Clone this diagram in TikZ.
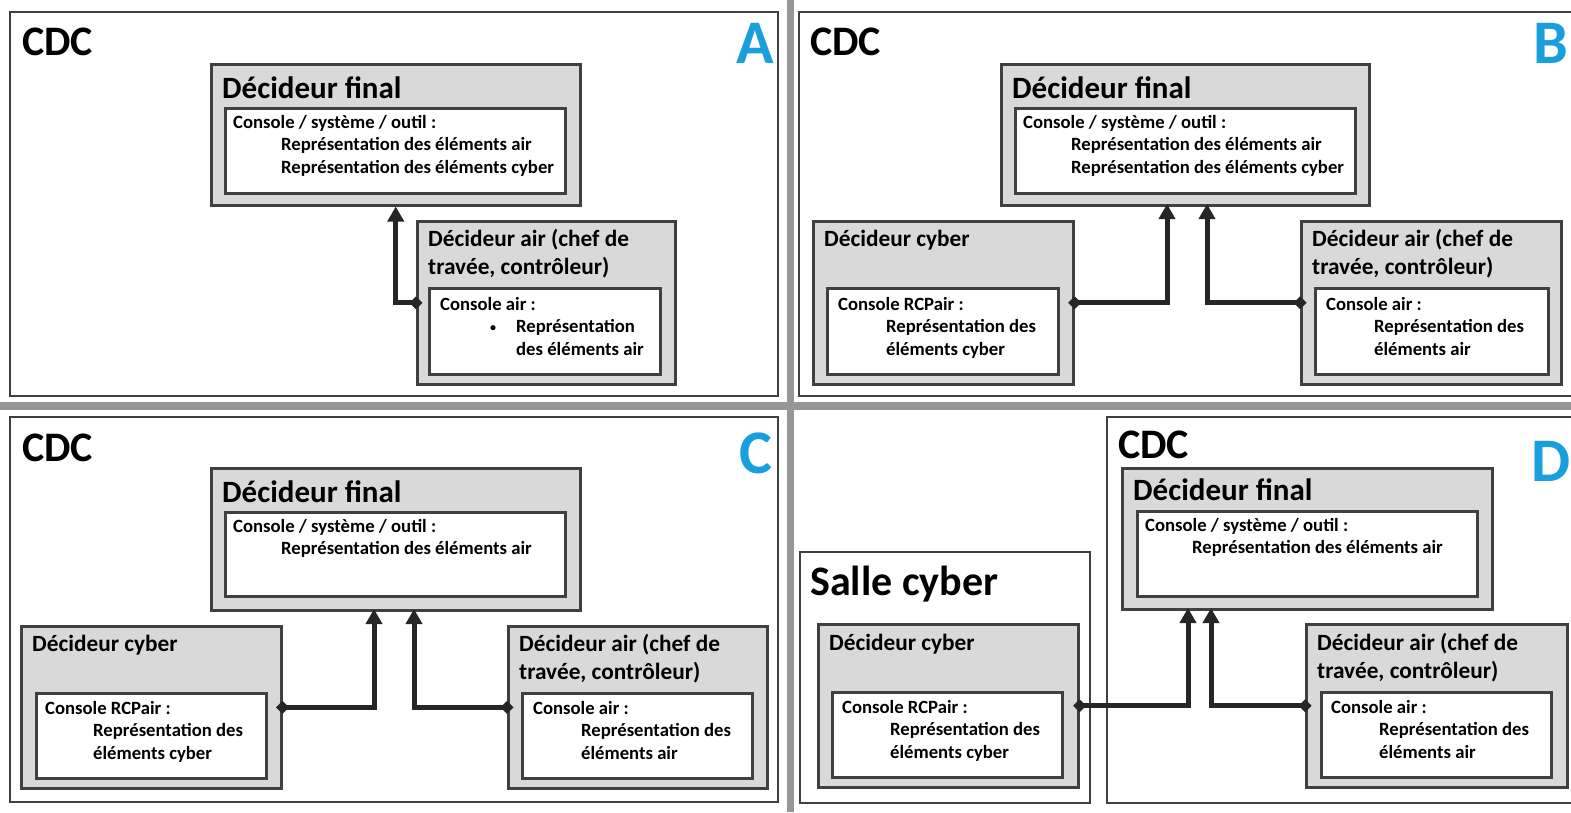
\documentclass[tikz,border=0pt]{standalone}
\usepackage{fontspec}
\setmainfont{Carlito}
\usetikzlibrary{arrows.meta}
\definecolor{boxgray}{RGB}{217,217,217}
\definecolor{linegray}{RGB}{64,64,64}
\definecolor{sepgray}{RGB}{150,150,150}
\definecolor{tagblue}{RGB}{25,160,220}
\definecolor{linkblack}{RGB}{38,38,38}
\begin{document}
\begin{tikzpicture}[x=1pt,y=-1pt,
    panel/.style={draw=linegray, line width=2pt},
    role/.style={draw=linegray, fill=boxgray, line width=2.5pt, inner sep=0, anchor=north west},
    screen/.style={draw=linegray, fill=white, line width=2.5pt, inner sep=0, anchor=north west},
    room/.style={font=\bfseries\fontsize{42}{50}\selectfont, inner sep=0, anchor=base west},
    tag/.style={font=\bfseries\fontsize{62}{70}\selectfont, text=tagblue, inner sep=0, anchor=base east},
    headbig/.style={font=\bfseries\fontsize{31}{37}\selectfont, inner sep=0, anchor=base west},
    head/.style={font=\bfseries\fontsize{23.3}{28}\selectfont, inner sep=0, anchor=base west, align=left},
    txt/.style={font=\bfseries\fontsize{18.7}{22.5}\selectfont, inner sep=0, anchor=base west, align=left},
    link/.style={draw=linkblack, line width=5pt, {Diamond[length=13pt,width=13pt]}-{Triangle[length=15pt,width=16pt]}, shorten <=-6.5pt}]
    \useasboundingbox (0,0) rectangle (1571,812);

    % separators between the four panels
    \fill[sepgray] (787,0) rectangle (794,812);
    \fill[sepgray] (0,402) rectangle (1571,410);

    % panel frames
    \draw[panel] (10,12) rectangle (778,396);
    \draw[panel] (799,12) rectangle (1580,396);
    \draw[panel] (10,417) rectangle (778,802);
    \draw[panel] (800,552) rectangle (1090,803);
    \draw[panel] (1107,417) rectangle (1580,803);

    % Panel A (text nodes sit on the baseline of their last line)
    \node[room] (cdcA) at (22,55) {CDC};
    \node[tag] (tagA) at (774,63) {A};
    \node[role, minimum width=369, minimum height=141] (finA) at (210,63) {};
    \node[headbig] (finAt) at (222,98) {Décideur final};
    \node[screen, minimum width=340, minimum height=85] (conA) at (224,107) {};
    \node[txt] (conAt) at (233,173) {Console / système / outil :\\
      \hspace*{48pt}Représentation des éléments air\\
      \hspace*{48pt}Représentation des éléments cyber};
    \node[role, minimum width=258, minimum height=163] (airA) at (416,220) {};
    \node[head] (airAt) at (428,274) {Décideur air (chef de\\travée, contrôleur)};
    \node[screen, minimum width=231, minimum height=86] (airconA) at (428,287) {};
    \node[txt] (airconAt) at (440,355) {Console air :\\
      \makebox[76pt][l]{\hspace*{50pt}\raisebox{1.5pt}{\fontsize{12}{12}\selectfont\textbullet}}Représentation\\
      \hspace*{76pt}des éléments air};
    \draw[link] (airA.west) -| (finA.south);

    % Panel B
    \node[room] (cdcB) at (810,55) {CDC};
    \node[tag] (tagB) at (1568,63) {B};
    \node[role, minimum width=368, minimum height=141] (finB) at (1000,63) {};
    \node[headbig] (finBt) at (1012,98) {Décideur final};
    \node[screen, minimum width=340, minimum height=85] (conB) at (1014,107) {};
    \node[txt] (conBt) at (1023,173) {Console / système / outil :\\
      \hspace*{48pt}Représentation des éléments air\\
      \hspace*{48pt}Représentation des éléments cyber};
    \node[role, minimum width=260, minimum height=163] (cybB) at (812,220) {};
    \node[head] (cybBt) at (824,246) {Décideur cyber};
    \node[screen, minimum width=231, minimum height=86] (cybconB) at (826,287) {};
    \node[txt] (cybconBt) at (838,355) {Console RCPair :\\
      \hspace*{48pt}Représentation des\\
      \hspace*{48pt}éléments cyber};
    \node[role, minimum width=260, minimum height=163] (airB) at (1300,220) {};
    \node[head] (airBt) at (1312,274) {Décideur air (chef de\\travée, contrôleur)};
    \node[screen, minimum width=233, minimum height=86] (airconB) at (1314,287) {};
    \node[txt] (airconBt) at (1326,355) {Console air :\\
      \hspace*{48pt}Représentation des\\
      \hspace*{48pt}éléments air};
    \coordinate (inB1) at (1167,204);
    \coordinate (inB2) at (1207,204);
    \draw[link] (cybB.east) -| (inB1);
    \draw[link] (airB.west) -| (inB2);

    % Panel C
    \node[room] (cdcC) at (22,461) {CDC};
    \node[tag] (tagC) at (773,473) {C};
    \node[role, minimum width=369, minimum height=142] (finC) at (210,467) {};
    \node[headbig] (finCt) at (222,502) {Décideur final};
    \node[screen, minimum width=340, minimum height=84] (conC) at (224,511) {};
    \node[txt] (conCt) at (233,554.5) {Console / système / outil :\\
      \hspace*{48pt}Représentation des éléments air};
    \node[role, minimum width=260, minimum height=162] (cybC) at (20,625) {};
    \node[head] (cybCt) at (32,651) {Décideur cyber};
    \node[screen, minimum width=230, minimum height=85] (cybconC) at (35,692) {};
    \node[txt] (cybconCt) at (45,759) {Console RCPair :\\
      \hspace*{48pt}Représentation des\\
      \hspace*{48pt}éléments cyber};
    \node[role, minimum width=259, minimum height=162] (airC) at (507,625) {};
    \node[head] (airCt) at (519,679) {Décideur air (chef de\\travée, contrôleur)};
    \node[screen, minimum width=230, minimum height=85] (airconC) at (521,692) {};
    \node[txt] (airconCt) at (533,759) {Console air :\\
      \hspace*{48pt}Représentation des\\
      \hspace*{48pt}éléments air};
    \coordinate (inC1) at (374,609);
    \coordinate (inC2) at (414,609);
    \draw[link] (cybC.east) -| (inC1);
    \draw[link] (airC.west) -| (inC2);

    % Panel D
    \node[room] (salleD) at (810,595) {Salle cyber};
    \node[room] (cdcD) at (1118,458) {CDC};
    \node[tag] (tagD) at (1571,481) {D};
    \node[role, minimum width=370, minimum height=141] (finD) at (1121,467) {};
    \node[headbig] (finDt) at (1133,500) {Décideur final};
    \node[screen, minimum width=340, minimum height=85] (conD) at (1136,510) {};
    \node[txt] (conDt) at (1145,553.5) {Console / système / outil :\\
      \hspace*{47pt}Représentation des éléments air};
    \node[role, minimum width=260, minimum height=163] (cybD) at (817,623) {};
    \node[head] (cybDt) at (829,650) {Décideur cyber};
    \node[screen, minimum width=230, minimum height=85] (cybconD) at (831,691) {};
    \node[txt] (cybconDt) at (842,758) {Console RCPair :\\
      \hspace*{48pt}Représentation des\\
      \hspace*{48pt}éléments cyber};
    \node[role, minimum width=261, minimum height=163] (airD) at (1305,623) {};
    \node[head] (airDt) at (1317,678) {Décideur air (chef de\\travée, contrôleur)};
    \node[screen, minimum width=230, minimum height=85] (airconD) at (1320,691) {};
    \node[txt] (airconDt) at (1331,758) {Console air :\\
      \hspace*{48pt}Représentation des\\
      \hspace*{48pt}éléments air};
    \coordinate (inD1) at (1188,608);
    \coordinate (inD2) at (1211,608);
    \draw[link] (cybD.east) -| (inD1);
    \draw[link] (airD.west) -| (inD2);
\end{tikzpicture}
\end{document}
